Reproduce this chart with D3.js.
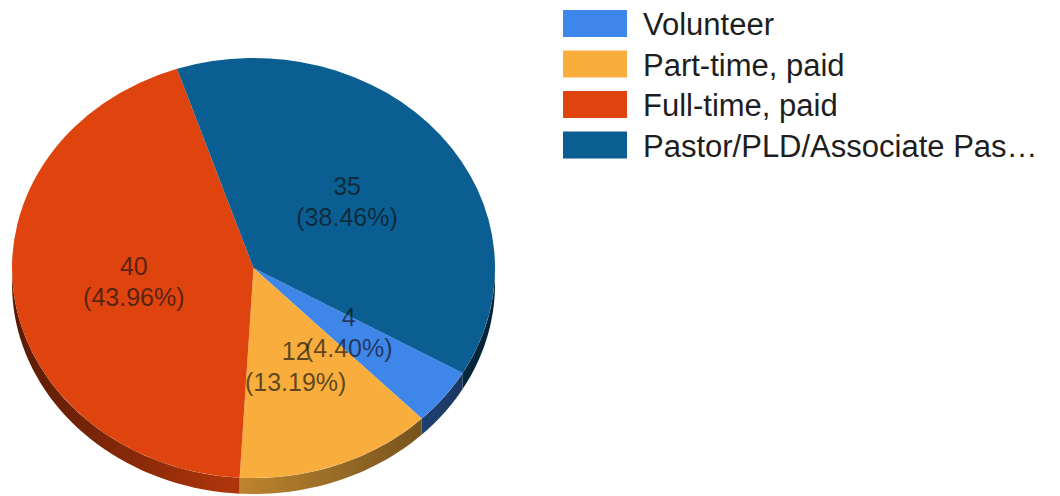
<!DOCTYPE html>
<html>
<head>
<meta charset="utf-8">
<script src="https://cdn.jsdelivr.net/npm/d3@7"></script>
<style>
  body { margin: 0; background: #fff; }
  text { font-family: Arial, "Liberation Sans", sans-serif; }
</style>
</head>
<body>
<div id="chart"></div>
<script>
// data
let categories = ["Volunteer", "Part-time, paid", "Full-time, paid", "Pastor/PLD/Associate Pas\u2026"];
let values = [4, 12, 40, 35];
let colors = ["#3f86ea", "#f8ad3c", "#df440e", "#0b5e91"];

let width = 1060, height = 496;
let cx = 253.5, cy = 268, rx = 241.5, ry = 210, depth = 16;
let startDeg = 120;

let svg = d3.select("#chart").append("svg")
    .attr("width", width)
    .attr("height", height);

let total = d3.sum(values);
let pie = d3.pie().sort(null)
    .startAngle(startDeg * Math.PI / 180)
    .endAngle(startDeg * Math.PI / 180 + 2 * Math.PI);
let arcs = pie(values);

// point on the ellipse for a d3 angle (0 = 12 o'clock, clockwise)
function pt(a, dy) {
    return [cx + rx * Math.sin(a), cy - ry * Math.cos(a) + (dy || 0)];
}

// gradients for the sides
let defs = svg.append("defs");
colors.forEach(function(c, i) {
    let g = defs.append("linearGradient")
        .attr("id", "side" + i)
        .attr("gradientUnits", "userSpaceOnUse")
        .attr("x1", cx - rx).attr("x2", cx + rx)
        .attr("y1", 0).attr("y2", 0);
    g.append("stop").attr("offset", 0).attr("stop-color", d3.color(c).darker(2.6));
    g.append("stop").attr("offset", 0.45).attr("stop-color", d3.color(c).darker(0.7));
    g.append("stop").attr("offset", 1).attr("stop-color", d3.color(c).darker(2.8));
});

// side walls (only the front half, 90deg..270deg)
let line = d3.line();
let front0 = Math.PI / 2, front1 = 3 * Math.PI / 2;
arcs.forEach(function(d, i) {
    // angles may run past 2PI, check both windows
    [0, 2 * Math.PI].forEach(function(off) {
        let a0 = Math.max(d.startAngle, front0 + off);
        let a1 = Math.min(d.endAngle, front1 + off);
        if (a1 <= a0) return;
        let steps = d3.range(0, 41).map(k => a0 + (a1 - a0) * k / 40);
        let top = steps.map(a => pt(a, 0));
        let bottom = steps.slice().reverse().map(a => pt(a, depth));
        svg.append("path")
            .attr("d", line(top.concat(bottom)) + "Z")
            .attr("fill", "url(#side" + i + ")");
    });
});

// top face
let arc = d3.arc().innerRadius(0).outerRadius(rx);
let face = svg.append("g")
    .attr("transform", "translate(" + cx + "," + cy + ") scale(1," + (ry / rx) + ")");

face.selectAll("path")
    .data(arcs)
    .join("path")
    .attr("d", arc)
    .attr("fill", (d, i) => colors[i]);

// slice labels
let labels = svg.append("g");
arcs.forEach(function(d, i) {
    let mid = (d.startAngle + d.endAngle) / 2;
    let p = [cx + 0.5 * rx * Math.sin(mid), cy - 0.5 * ry * Math.cos(mid)];
    let t = labels.append("text")
        .attr("text-anchor", "middle")
        .attr("font-size", 25)
        .attr("fill", "#111")
        .attr("fill-opacity", 0.68);
    t.append("tspan").attr("x", p[0]).attr("y", p[1] - 6.5).text(d.data);
    t.append("tspan").attr("x", p[0]).attr("y", p[1] + 24.5)
        .text("(" + (d.data / total * 100).toFixed(2) + "%)");
});

// legend
let legend = svg.append("g").attr("transform", "translate(563,10)");
let rows = legend.selectAll("g")
    .data(categories)
    .join("g")
    .attr("transform", (d, i) => "translate(0," + (i * 40.5) + ")");

rows.append("rect")
    .attr("width", 64)
    .attr("height", 27)
    .attr("fill", (d, i) => colors[i]);

rows.append("text")
    .attr("x", 80)
    .attr("y", 25)
    .attr("font-size", 31)
    .attr("fill", "#1e1e1e")
    .text(d => d);
</script>
</body>
</html>
